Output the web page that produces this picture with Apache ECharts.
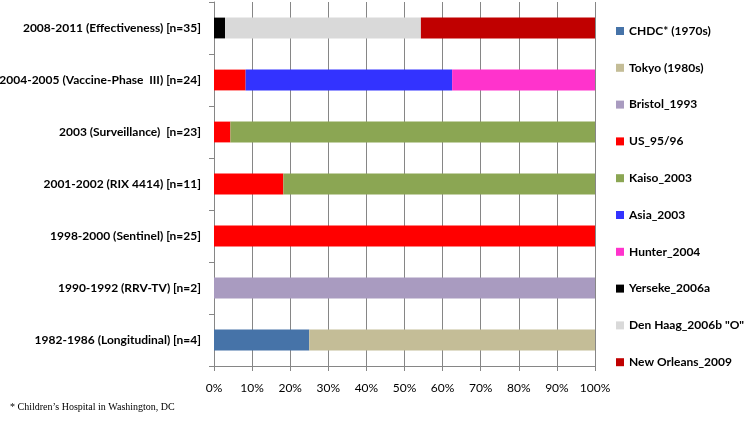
<!DOCTYPE html>
<html><head><meta charset="utf-8">
<script src="https://cdn.jsdelivr.net/npm/echarts@6/dist/echarts.min.js"></script>
<style>html,body{margin:0;padding:0;background:#fff}#c{width:745px;height:442px}</style>
</head><body><div id="c"></div>
<script>
const categories = [
  "1982-1986 (Longitudinal) [n=4]",
  "1990-1992 (RRV-TV) [n=2]",
  "1998-2000 (Sentinel) [n=25]",
  "2001-2002 (RIX 4414) [n=11]",
  "2003 (Surveillance)  [n=23]",
  "2004-2005 (Vaccine-Phase  III) [n=24]",
  "2008-2011 (Effectiveness) [n=35]"
];
const seriesNames = ["CHDC* (1970s)","Tokyo (1980s)","Bristol_1993","US_95/96","Kaiso_2003","Asia_2003","Hunter_2004","Yerseke_2006a","Den Haag_2006b \"O\"","New Orleans_2009"];
const chdc      = [25, 0, 0, 0, 0, 0, 0];
const tokyo     = [75, 0, 0, 0, 0, 0, 0];
const bristol   = [0, 100, 0, 0, 0, 0, 0];
const us9596    = [0, 0, 100, 18.2, 4.3, 8.3, 0];
const kaiso     = [0, 0, 0, 81.8, 95.7, 0, 0];
const asia      = [0, 0, 0, 0, 0, 54.2, 0];
const hunter    = [0, 0, 0, 0, 0, 37.5, 0];
const yerseke   = [0, 0, 0, 0, 0, 0, 2.9];
const denhaag   = [0, 0, 0, 0, 0, 0, 51.4];
const neworleans= [0, 0, 0, 0, 0, 0, 45.7];
const xTicks = ["0%","10%","20%","30%","40%","50%","60%","70%","80%","90%","100%"];
const allValues = [chdc,tokyo,bristol,us9596,kaiso,asia,hunter,yerseke,denhaag,neworleans];
const colors = ["#4673A8","#C4BD97","#A99BC0","#FF0000","#8BA653","#3333FF","#FF33CC","#000000","#D9D9D9","#C00000"];

const chart = echarts.init(document.getElementById('c'));
const font = 'Lato, "Open Sans", sans-serif';
chart.setOption({
  animation:false,
  color: colors,
  grid:{left:214,right:150,top:2,bottom:76,containLabel:false,outerBoundsMode:'none'},
  legend:{
    orient:'vertical', left:611, top:20, itemWidth:8, itemHeight:8, itemGap:24.8,
    icon:'rect', selectedMode:false,
    textStyle:{fontFamily:font,fontWeight:'bold',fontSize:12,color:'#000'},
    data: seriesNames
  },
  xAxis:{
    type:'value', min:0, max:100, interval:10,
    axisLine:{show:true,lineStyle:{color:'#868686'}},
    axisTick:{show:true,length:5,lineStyle:{color:'#868686'}},
    splitLine:{show:true,lineStyle:{color:'#868686'}},
    axisLabel:{margin:16,fontFamily:font,fontSize:12,color:'#000',formatter:v=>xTicks[Math.round(v/10)]}
  },
  yAxis:{
    type:'category', data:categories,
    axisLine:{show:true,lineStyle:{color:'#868686'}},
    axisTick:{show:true,length:5,lineStyle:{color:'#868686'}},
    axisLabel:{margin:13,fontFamily:font,fontWeight:'bold',fontSize:12,color:'#000'}
  },
  series: seriesNames.map((n,i)=>({
    name:n, type:'bar', stack:'s', barWidth:'40%',
    data: allValues[i]
  })),
  graphic:[{type:'text',left:10,top:402,style:{text:'* Children\u2019s Hospital in Washington, DC',font:'10px "Liberation Serif", serif',fill:'#000'}}]
});
</script></body></html>
